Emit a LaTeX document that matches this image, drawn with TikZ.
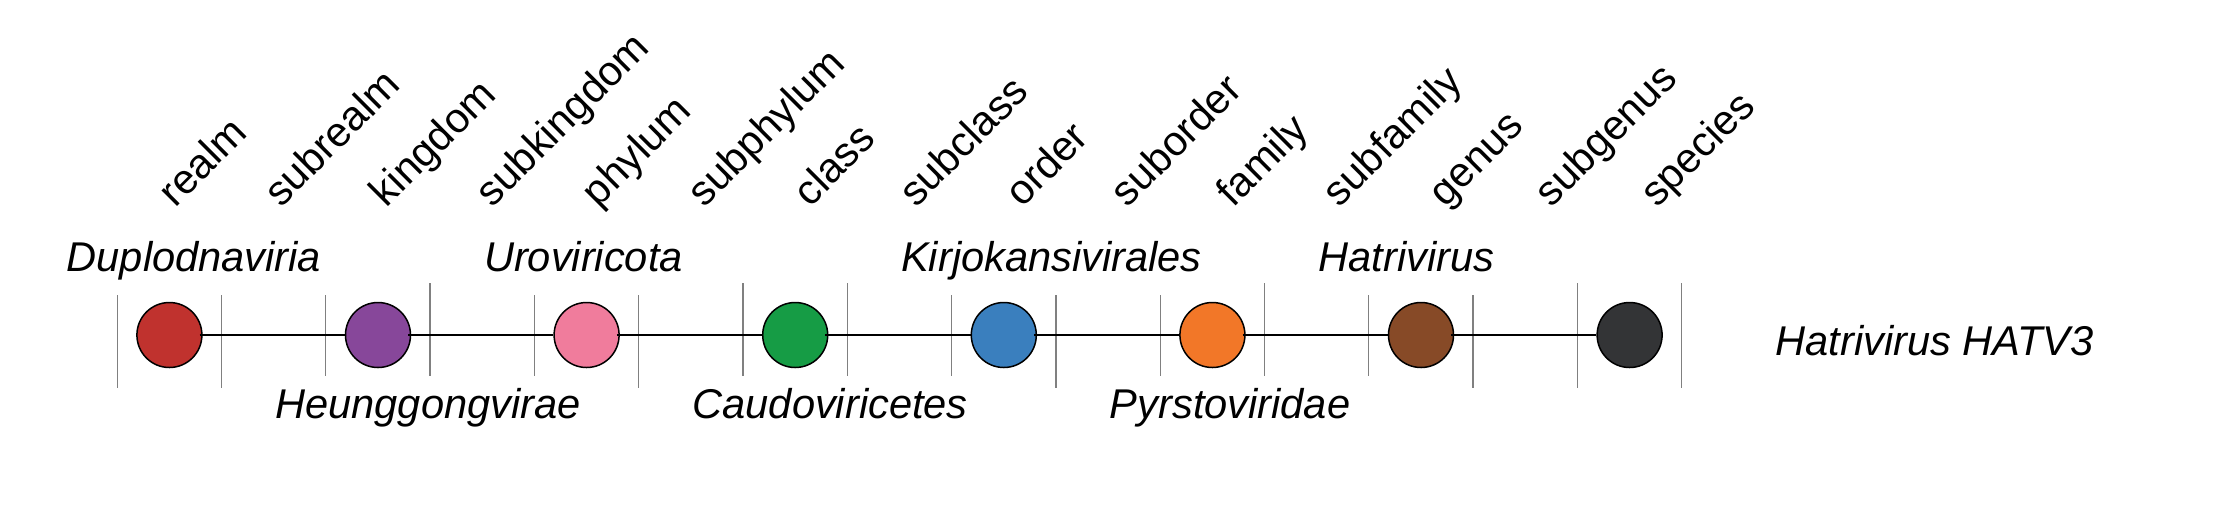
\documentclass[tikz,border=0pt]{standalone}
\usepackage{fontspec}
\setmainfont{Liberation Sans}
\definecolor{cRed}{HTML}{C0322E}
\definecolor{cPurple}{HTML}{87479A}
\definecolor{cPink}{HTML}{F07C9C}
\definecolor{cGreen}{HTML}{169C45}
\definecolor{cBlue}{HTML}{3A7FBE}
\definecolor{cOrange}{HTML}{F27728}
\definecolor{cBrown}{HTML}{874A27}
\definecolor{cDark}{HTML}{333436}
\definecolor{tickgray}{HTML}{808080}
\begin{document}
\begin{tikzpicture}[x=0.5pt,y=-0.5pt,
  taxon/.style={circle, draw=black, line width=0.75pt, minimum size=32.5pt, inner sep=0pt},
  ticksep/.style={draw=tickgray, line width=0.65pt},
  rank/.style={rotate=45, anchor=base west, inner sep=0pt, font=\fontsize{20.8pt}{25pt}\selectfont},
  tname/.style={anchor=base west, inner sep=0pt, font=\fontsize{20.8pt}{25pt}\selectfont\itshape},
  link/.style={line width=0.75pt}]
\useasboundingbox (0,0) rectangle (2225,521);
% separators
\foreach \xx/\tp/\bt in {117.2/295/388, 221.5/295/388, 325.8/295/376, 430.1/283/376,
  534.4/295/376, 638.7/295/388, 743/283/376, 847.3/283/376, 951.6/295/376,
  1055.9/295/388, 1160.2/295/376, 1264.5/283/376, 1368.8/295/376, 1473.1/295/388,
  1577.4/283/388, 1681.7/283/388}
  \draw[ticksep] (\xx,\tp) -- (\xx,\bt);
% rank labels
\node[rank] (r0) at (175,208.5) {realm};
\node[rank] (r1) at (280.85,208.5) {subrealm};
\node[rank] (r2) at (386.7,208.5) {kingdom};
\node[rank] (r3) at (492.55,208.5) {subkingdom};
\node[rank] (r4) at (598.4,208.5) {phylum};
\node[rank] (r5) at (704.25,208.5) {subphylum};
\node[rank] (r6) at (810.1,208.5) {class};
\node[rank] (r7) at (915.95,208.5) {subclass};
\node[rank] (r8) at (1021.8,208.5) {order};
\node[rank] (r9) at (1127.65,208.5) {suborder};
\node[rank] (r10) at (1233.5,208.5) {family};
\node[rank] (r11) at (1339.35,208.5) {subfamily};
\node[rank] (r12) at (1445.2,208.5) {genus};
\node[rank] (r13) at (1551.05,208.5) {subgenus};
\node[rank] (r14) at (1656.9,208.5) {species};
% taxa circles
\node[taxon, fill=cRed] (c0) at (169.4,335) {};
\node[taxon, fill=cPurple] (c1) at (378,335) {};
\node[taxon, fill=cPink] (c2) at (586.6,335) {};
\node[taxon, fill=cGreen] (c3) at (795.2,335) {};
\node[taxon, fill=cBlue] (c4) at (1003.8,335) {};
\node[taxon, fill=cOrange] (c5) at (1212.4,335) {};
\node[taxon, fill=cBrown] (c6) at (1421,335) {};
\node[taxon, fill=cDark] (c7) at (1629.6,335) {};
% links
\foreach \a/\b in {c0/c1,c1/c2,c2/c3,c3/c4,c4/c5,c5/c6,c6/c7}
  \draw[link] ([xshift=-1.5pt]\a.east) -- (\b.west);
% taxon names
\node[tname] (t0) at (66.4,271.7) {Duplodnaviria};
\node[tname] (t1) at (275,418) {Heunggongvirae};
\node[tname] (t2) at (483.6,271.7) {Uroviricota};
\node[tname] (t3) at (692.2,418) {Caudoviricetes};
\node[tname] (t4) at (900.8,271.7) {Kirjokansivirales};
\node[tname] (t5) at (1109.4,418) {Pyrstoviridae};
\node[tname] (t6) at (1318,271.7) {Hatrivirus};
\node[tname] (t7) at (1775,355) {Hatrivirus HATV3};
\end{tikzpicture}
\end{document}
